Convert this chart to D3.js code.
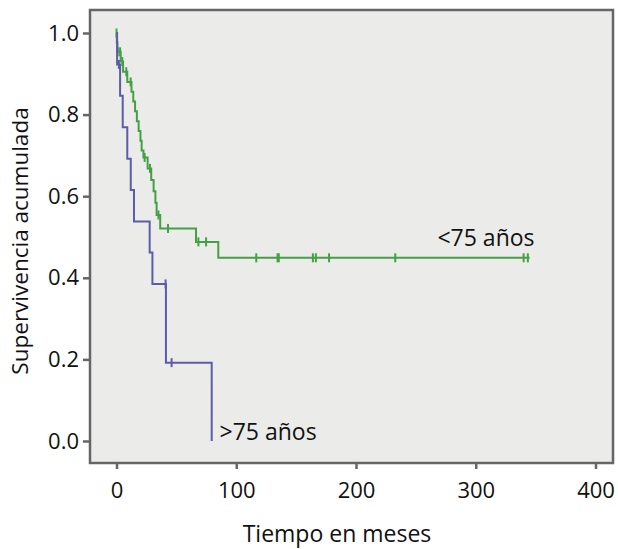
<!DOCTYPE html>
<html>
<head>
<meta charset="utf-8">
<script src="https://cdn.jsdelivr.net/npm/d3@7"></script>
<style>
  body { margin: 0; background: #fff; }
  svg { display: block; font-family: "Open Sans", "Noto Sans", sans-serif; }
</style>
</head>
<body>
<div id="chart"></div>
<script>
// Kaplan-Meier steps: time (months) and cumulative survival after each step
const youngTimes = [0, 0.3, 0.8, 3.5, 5.5, 9, 12.5, 14, 15.5, 17, 18.5, 20, 21, 22.5, 26, 29, 31, 32.5, 33.5, 36.5, 66.4, 85, 345];
const youngSurv  = [1.0, 0.977, 0.954, 0.930, 0.905, 0.880, 0.856, 0.832, 0.808, 0.784, 0.760, 0.736, 0.712, 0.695, 0.668, 0.640, 0.612, 0.584, 0.554, 0.521, 0.488, 0.449, 0.449];
const youngCensorTimes = [0, 1, 3, 4.8, 8.2, 11.8, 23.5, 28, 35, 43, 68.4, 74.8, 116.7, 134.5, 135.5, 164, 166.5, 177.5, 232.8, 340, 343.5];

const oldTimes = [0, 0.5, 3, 5.2, 9, 11.9, 14.6, 27.7, 30, 41.3, 79.5];
const oldSurv  = [1.0, 0.923, 0.846, 0.769, 0.692, 0.615, 0.538, 0.462, 0.385, 0.192, 0.0];
const oldCensorTimes = [2, 41, 46];

const xTicks = [0, 100, 200, 300, 400];
const yTicks = [0, 0.2, 0.4, 0.6, 0.8, 1.0];

const seriesLabels = ["<75 años", ">75 años"];
const labelTimes = [268, 86];
const labelSurv = [0.478, 0.002];

const width = 618, height = 549;
const frame = { left: 90, top: 10, right: 613, bottom: 463 };

const svg = d3.select("#chart").append("svg")
    .attr("width", width)
    .attr("height", height);

const x = d3.scaleLinear().domain([0, 400]).range([116.5, 595.5]);
const y = d3.scaleLinear().domain([0, 1]).range([441, 33]);

// plot background + frame
svg.append("rect")
    .attr("x", frame.left)
    .attr("y", frame.top)
    .attr("width", frame.right - frame.left)
    .attr("height", frame.bottom - frame.top)
    .attr("fill", "#ebebea")
    .attr("stroke", "#666")
    .attr("stroke-width", 2.5);

// axes
const yAxis = svg.append("g")
    .attr("transform", `translate(${frame.left},0)`)
    .call(d3.axisLeft(y).tickValues(yTicks).tickFormat(d3.format(".1f")).tickSize(7).tickPadding(4));
const xAxis = svg.append("g")
    .attr("transform", `translate(0,${frame.bottom})`)
    .call(d3.axisBottom(x).tickValues(xTicks).tickSize(6).tickPadding(13));

[yAxis, xAxis].forEach(a => {
    a.select(".domain").remove();
    a.selectAll(".tick line").attr("stroke", "#666").attr("stroke-width", 2.5);
    a.selectAll(".tick text")
        .attr("fill", "#111")
        .style("font-size", "22px")
        .style("font-family", "'Open Sans', 'Noto Sans', sans-serif");
});

// axis titles
svg.append("text")
    .attr("x", 337)
    .attr("y", 542)
    .attr("text-anchor", "middle")
    .style("font-size", "23px")
    .attr("fill", "#111")
    .text("Tiempo en meses");

svg.append("text")
    .attr("transform", "translate(28,241) rotate(-90)")
    .attr("text-anchor", "middle")
    .style("font-size", "22.5px")
    .attr("fill", "#111")
    .text("Supervivencia acumulada");

// survival curves
const line = d3.line()
    .x(d => x(d[0]))
    .y(d => y(d[1]))
    .curve(d3.curveStepAfter);

const series = [
    { times: youngTimes, surv: youngSurv, censors: youngCensorTimes, color: "#45a045" },
    { times: oldTimes, surv: oldSurv, censors: oldCensorTimes, color: "#5c5ca8" }
];

// survival value just at time t (after any step at t)
function survAt(s, t) {
    let v = s.surv[0];
    for (let i = 0; i < s.times.length; i++) {
        if (s.times[i] <= t) v = s.surv[i];
    }
    return v;
}

series.forEach(s => {
    const pts = s.times.map((t, i) => [t, s.surv[i]]);
    svg.append("path")
        .datum(pts)
        .attr("fill", "none")
        .attr("stroke", s.color)
        .attr("stroke-width", 2)
        .attr("d", line);

    svg.selectAll(null)
        .data(s.censors)
        .enter()
        .append("line")
        .attr("x1", d => x(d))
        .attr("x2", d => x(d))
        .attr("y1", d => y(survAt(s, d)) - 4.5)
        .attr("y2", d => y(survAt(s, d)) + 4.5)
        .attr("stroke", s.color)
        .attr("stroke-width", 2);
});

// curve labels
svg.selectAll(".curve-label")
    .data(seriesLabels)
    .enter()
    .append("text")
    .attr("class", "curve-label")
    .attr("x", (d, i) => x(labelTimes[i]))
    .attr("y", (d, i) => y(labelSurv[i]))
    .style("font-size", "23px")
    .attr("fill", "#111")
    .text(d => d);
</script>
</body>
</html>
